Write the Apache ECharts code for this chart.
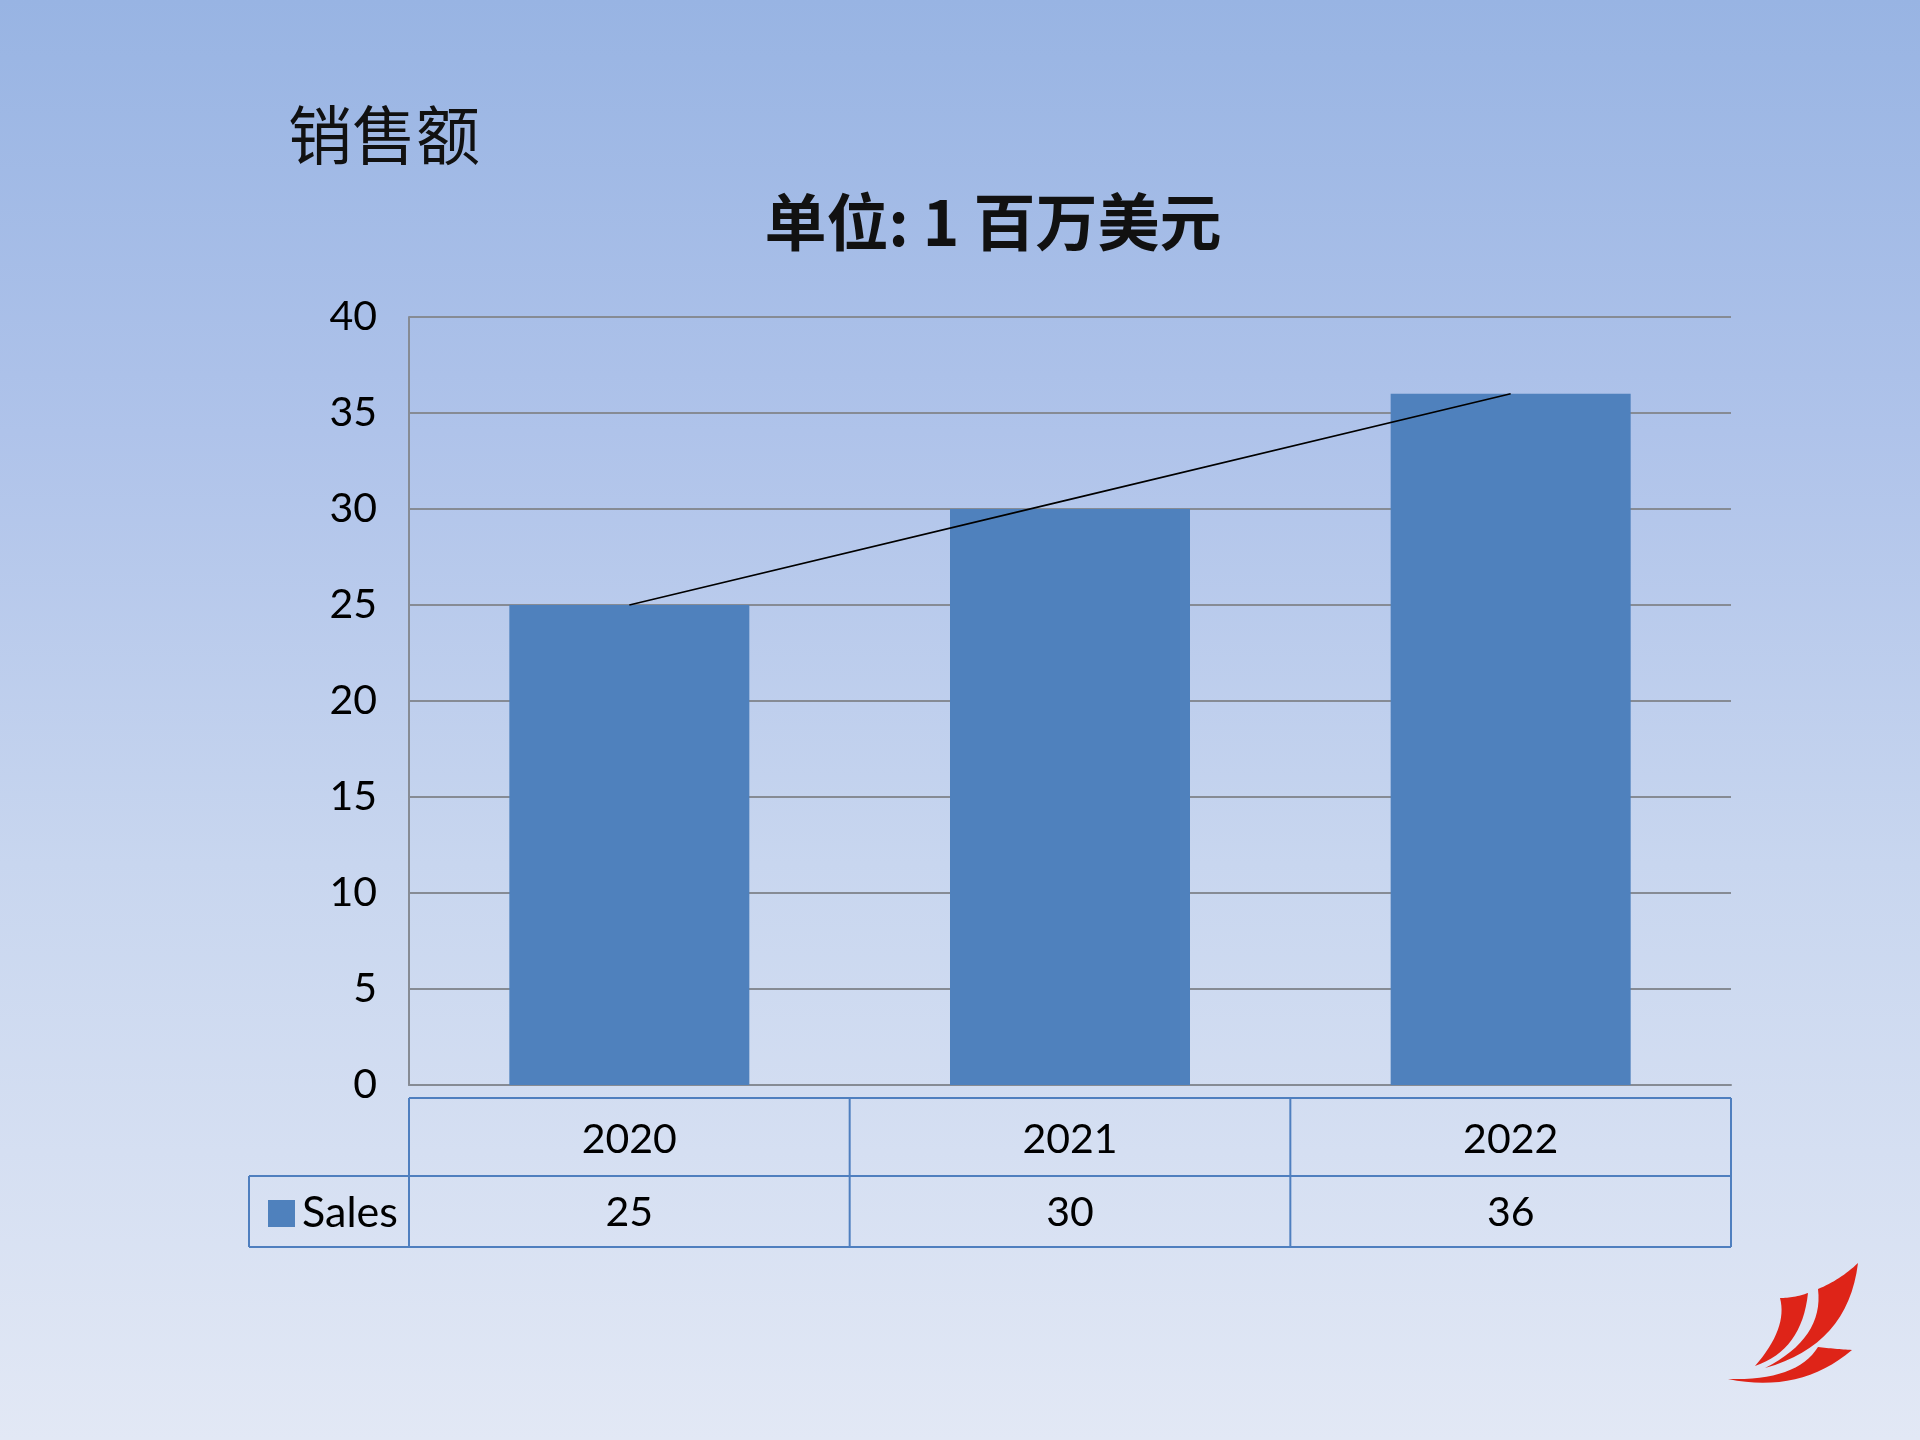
<!DOCTYPE html>
<html>
<head>
<meta charset="utf-8">
<script src="https://cdn.jsdelivr.net/npm/echarts@6/dist/echarts.min.js"></script>
<style>
html,body{margin:0;padding:0;width:1920px;height:1440px;overflow:hidden;}
#chart{width:1920px;height:1440px;}
</style>
</head>
<body>
<div id="chart"></div>
<script>
// ---- data ----
const categories = ['2020', '2021', '2022'];
const salesValues = [25, 30, 36];
const trendValues = [25, 30.5, 36];
const seriesName = 'Sales';
const yTicks = [0, 5, 10, 15, 20, 25, 30, 35, 40];
const titleText = '销售额';
const subtitleText = '单位: 1 百万美元';

// ---- layout ----
const W = 1920, H = 1440;
const G = {left: 409, right: 189, top: 317, bottom: 355};
const plotL = G.left, plotR = W - G.right, plotB = H - G.bottom;
const tableTop = 1098, tableMid = 1176, tableBot = 1247, tableLeft = 249;
const tableColor = '#4f7fbf';
const barColor = '#4f81bd';
const latin = 'Lato, "Noto Sans", sans-serif';
const cjk = '"Noto Sans CJK SC", sans-serif';

const chart = echarts.init(document.getElementById('chart'), null, {renderer: 'canvas'});

const colW = (plotR - plotL) / categories.length;
const tableGraphics = [];
function hline(y, x1, x2) {
  tableGraphics.push({type: 'line', shape: {x1: x1, y1: y, x2: x2, y2: y},
    style: {stroke: tableColor, lineWidth: 2}, silent: true});
}
function vline(x, y1, y2) {
  tableGraphics.push({type: 'line', shape: {x1: x, y1: y1, x2: x, y2: y2},
    style: {stroke: tableColor, lineWidth: 2}, silent: true});
}
hline(tableTop, plotL, plotR);
hline(tableMid, tableLeft, plotR);
hline(tableBot, tableLeft, plotR);
for (let i = 0; i <= categories.length; i++) vline(plotL + i * colW, tableTop, tableBot);
vline(tableLeft, tableMid, tableBot);

// logo shapes: sequences of quadratic segments [start, control, end]
function quadPts(p0, c, p1, n) {
  const out = [];
  for (let i = 0; i <= n; i++) {
    const t = i / n, u = 1 - t;
    out.push([u*u*p0[0] + 2*u*t*c[0] + t*t*p1[0], u*u*p0[1] + 2*u*t*c[1] + t*t*p1[1]]);
  }
  return out;
}
function shape(segs) {
  let pts = [];
  segs.forEach(s => { pts = pts.concat(quadPts(s[0], s[1], s[2], 16)); });
  return {type: 'polygon', shape: {points: pts}, style: {fill: '#de2418'}, silent: true};
}
const logo = [
  shape([[[1780,1298],[1794,1298],[1808,1293]], [[1808,1293],[1802,1350],[1755,1366]], [[1755,1366],[1788,1328],[1780,1298]]]),
  shape([[[1818,1289],[1840,1280],[1858,1263]], [[1858,1263],[1848,1345],[1765,1368]], [[1765,1368],[1824,1338],[1818,1289]]]),
  shape([[[1728,1379],[1797,1381],[1818,1347]], [[1818,1347],[1835,1349],[1852,1350]], [[1852,1350],[1800,1394],[1728,1379]]])
];

const option = {
  animation: false,
  backgroundColor: {
    type: 'linear', x: 0, y: 0, x2: 0, y2: 1,
    colorStops: [
      {offset: 0, color: '#98b4e3'},
      {offset: 0.3, color: '#afc3ea'},
      {offset: 0.6, color: '#c8d6ef'},
      {offset: 1, color: '#e2e8f5'}
    ]
  },
  title: [
    {text: titleText, left: 283, top: 98,
     textStyle: {fontFamily: cjk, fontSize: 64, fontWeight: 'normal', color: '#111'}},
    {text: subtitleText, left: 988, top: 186, textAlign: 'center',
     textStyle: {fontFamily: cjk, fontSize: 62, fontWeight: 'bold', color: '#111'}}
  ],
  grid: {left: G.left, right: G.right, top: G.top, bottom: G.bottom, containLabel: false},
  xAxis: {
    type: 'category',
    data: categories,
    axisLine: {show: true, lineStyle: {color: '#868b94', width: 2}},
    axisTick: {show: false},
    axisLabel: {
      margin: 18,
      interval: 0,
      formatter: function (v, idx) {
        return '{y|' + v + '}\n{v|' + salesValues[idx] + '}';
      },
      rich: {
        y: {fontFamily: latin, fontSize: 41, color: '#000', lineHeight: 73, align: 'center'},
        v: {fontFamily: latin, fontSize: 41, color: '#000', lineHeight: 73, align: 'center'}
      }
    }
  },
  yAxis: {
    type: 'value',
    min: yTicks[0],
    max: yTicks[yTicks.length - 1],
    interval: yTicks[1] - yTicks[0],
    axisLine: {show: true, lineStyle: {color: '#868b94', width: 2}},
    axisTick: {show: false},
    splitLine: {show: true, lineStyle: {color: '#868b94', width: 2}},
    axisLabel: {fontFamily: latin, fontSize: 41, color: '#000', margin: 32}
  },
  series: [
    {
      name: seriesName,
      type: 'bar',
      data: salesValues,
      barWidth: 240,
      itemStyle: {color: barColor},
      z: 2
    },
    {
      name: 'trend',
      type: 'line',
      data: trendValues,
      symbol: 'none',
      lineStyle: {color: '#000', width: 1.6},
      z: 3
    }
  ],
  graphic: tableGraphics.concat([
    {type: 'rect', shape: {x: 268, y: 1200, width: 27, height: 27},
     style: {fill: barColor}, silent: true},
    {type: 'text', x: 302, y: 1213,
     style: {text: seriesName, font: '43px ' + latin, fill: '#000', verticalAlign: 'middle'},
     silent: true}
  ]).concat(logo)
};
chart.setOption(option);
</script>
</body>
</html>
